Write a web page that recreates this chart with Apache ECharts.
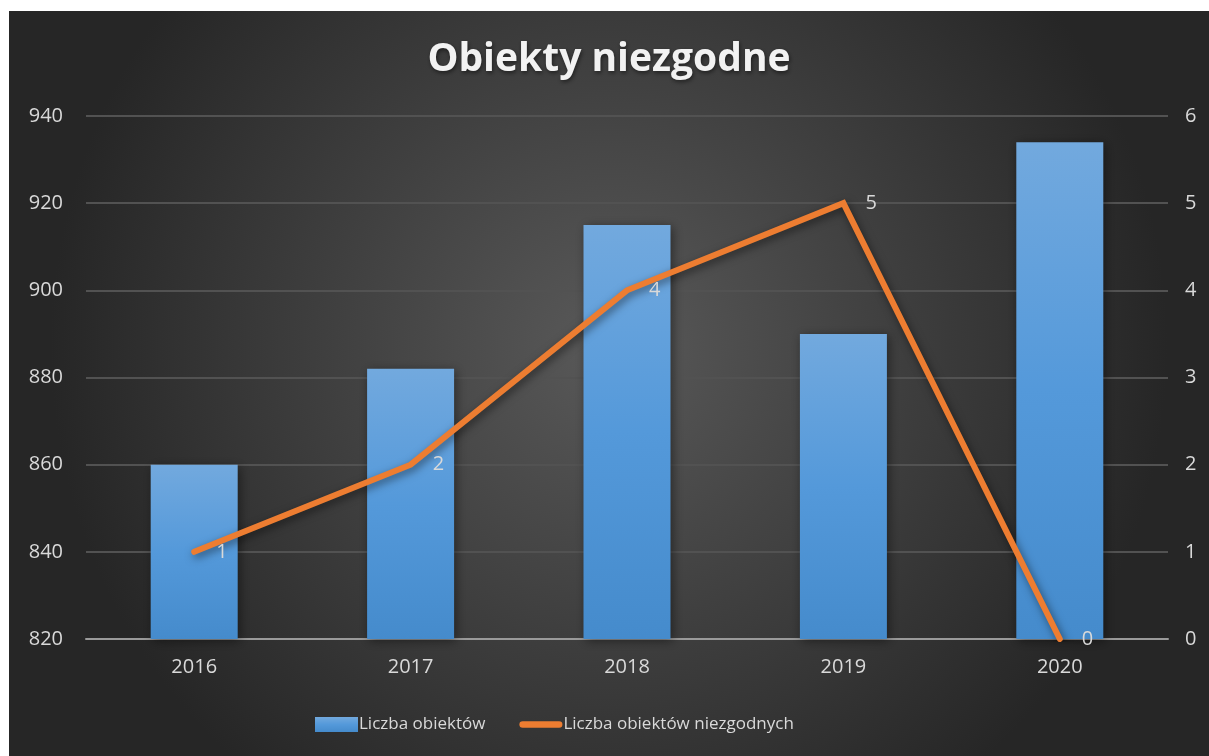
<!DOCTYPE html>
<html><head><meta charset="utf-8">
<script src="https://cdn.jsdelivr.net/npm/echarts@6/dist/echarts.min.js"></script>
<style>
html,body{margin:0;padding:0;background:#fff;width:1209px;height:756px;overflow:hidden}
#c{position:absolute;left:9px;top:11px;width:1200px;height:745px}
</style></head>
<body><div id="c"></div>
<script>
const categories = ['2016','2017','2018','2019','2020'];
const liczbaObiektow = [860, 882, 915, 890, 934];
const liczbaNiezgodnych = [1, 2, 4, 5, 0];
const leftTicks = {min: 820, max: 940, interval: 20};
const rightTicks = {min: 0, max: 6, interval: 1};

const font = '"Open Sans", sans-serif';
const txt = '#d9d9d9';
const chart = echarts.init(document.getElementById('c'));
chart.setOption({
  backgroundColor: {type:'radial', x:0.5, y:0.45, r:0.75, colorStops:[{offset:0,color:'#595959'},{offset:1,color:'#262626'}]},
  title: {text:'Obiekty niezgodne', left:'center', top:24,
    textStyle:{color:'#f2f2f2', fontFamily:font, fontWeight:'bold', fontSize:39,
      textShadowColor:'rgba(0,0,0,0.5)', textShadowBlur:4, textShadowOffsetX:1, textShadowOffsetY:2}},
  legend: {bottom:18, left:301, itemGap:34, itemWidth:43, itemHeight:15,
    textStyle:{color:txt, fontFamily:font, fontSize:17, padding:[0,0,0,-4]},
    data:[{name:'Liczba obiektów', icon:'rect'},
          {name:'Liczba obiektów niezgodnych', icon:'path://M3.5,0 L42.5,0 A3.5,3.5 0 0 1 42.5,7 L3.5,7 A3.5,3.5 0 0 1 3.5,0 Z', itemStyle:{color:'#ed7d31'}}]},
  grid: {left:77, right:41, top:105, bottom:117},
  xAxis: {type:'category', data:categories,
    axisLine:{lineStyle:{color:'#9a9a9a', width:2}}, axisTick:{show:false},
    axisLabel:{color:txt, fontFamily:font, fontSize:20, margin:18}},
  yAxis: [
    {type:'value', min:leftTicks.min, max:leftTicks.max, interval:leftTicks.interval,
     axisLabel:{color:txt, fontFamily:font, fontSize:20, margin:23},
     axisLine:{show:false}, axisTick:{show:false},
     splitLine:{lineStyle:{color:'#525252', width:2}}},
    {type:'value', min:rightTicks.min, max:rightTicks.max, interval:rightTicks.interval,
     axisLabel:{color:txt, fontFamily:font, fontSize:20, margin:17},
     axisLine:{show:false}, axisTick:{show:false}, splitLine:{show:false}}
  ],
  series: [
    {name:'Liczba obiektów', type:'bar', data:liczbaObiektow, barWidth:87, yAxisIndex:0,
     itemStyle:{color:{type:'linear',x:0,y:0,x2:0,y2:1,colorStops:[{offset:0,color:'#72a9de'},{offset:0.5,color:'#5499da'},{offset:1,color:'#458bcc'}]},
       shadowColor:'rgba(0,0,0,0.45)', shadowBlur:10, shadowOffsetX:2, shadowOffsetY:2}},
    {name:'Liczba obiektów niezgodnych', type:'line', data:liczbaNiezgodnych, yAxisIndex:1,
     symbol:'circle', symbolSize:0.1, showSymbol:true, z:5,
     lineStyle:{color:'#ed7d31', width:6, cap:'round', join:'miter',
       shadowColor:'rgba(0,0,0,0.5)', shadowBlur:8, shadowOffsetX:2, shadowOffsetY:3},
     itemStyle:{color:'#ed7d31'},
     label:{show:true, position:'right', distance:22, color:txt, fontFamily:font, fontSize:20}}
  ]
});
</script></body></html>
